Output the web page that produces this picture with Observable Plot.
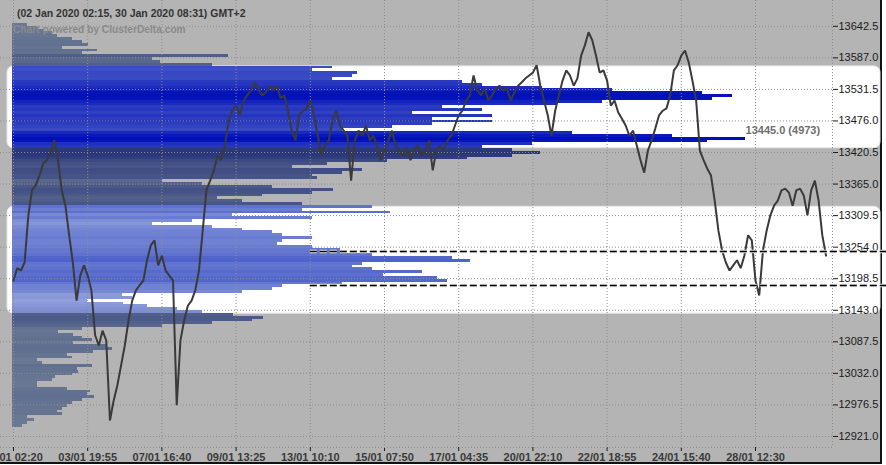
<!DOCTYPE html>
<html><head><meta charset="utf-8">
<script src="https://cdn.jsdelivr.net/npm/d3@7"></script>
<script src="https://cdn.jsdelivr.net/npm/@observablehq/plot@0.6"></script>
<style>
html,body{margin:0;padding:0;background:#fff;}
#wrap{position:relative;width:886px;height:465px;overflow:hidden;font-family:"Liberation Sans",Arial,sans-serif;}
#bg{position:absolute;left:0;top:0;width:880px;height:462px;background:#b4b4b4;border-right:2px solid #111;border-bottom:2px solid #111;}
.layer{position:absolute;left:0;top:0;}
#title{position:absolute;left:17px;top:7px;font:bold 10.5px "Liberation Sans",Arial,sans-serif;color:#333;white-space:nowrap;}
#mark{position:absolute;left:13px;top:24px;font:bold 10.2px "Liberation Sans",Arial,sans-serif;color:#8a8a8a;white-space:nowrap;}
#top g[aria-label^="x-axis"] text{font-weight:bold;fill:#3a3a3a;}
#top g[aria-label^="y-axis"] text{fill:#1a1a1a;}
</style></head><body>
<div id="wrap"><div id="bg"></div></div>
<script>
// ---- data ----
const titleText = "(02 Jan 2020 02:15, 30 Jan 2020 08:31) GMT+2";
const watermark = "Chart powered by ClusterDelta.com";
const xTickBars = [0, 20, 40, 60, 80, 100, 120, 140, 160, 180, 200];
const xTickLabels = ["02/01 02:20","03/01 19:55","07/01 16:40","09/01 13:25","13/01 10:10","15/01 07:50","17/01 04:35","20/01 22:10","22/01 18:55","24/01 15:40","28/01 12:30"];
const yTicks = [12921.0, 12976.5, 13032.0, 13087.5, 13143.0, 13198.5, 13254.0, 13309.5, 13365.0, 13420.5, 13476.0, 13531.5, 13587.0, 13642.5];
const priceCloses = [
13195,13217,13213,13227,13310,13354,13363,13380,13401,13407,
13421,13442,13407,13354,13327,13275,13227,13160,13204,13222,
13204,13178,13099,13081,13107,13090,12949,12984,13011,13046,
13081,13125,13160,13178,13187,13195,13231,13257,13266,13222,
13239,13213,13204,13195,12976,13090,13125,13151,13160,13178,
13213,13283,13354,13371,13389,13415,13407,13433,13477,13494,
13503,13486,13512,13521,13530,13544,13533,13521,13526,13538,
13530,13538,13516,13521,13494,13459,13442,13486,13494,13498,
13512,13486,13450,13415,13433,13442,13477,13494,13468,13459,
13450,13371,13442,13459,13450,13468,13442,13450,13433,13407,
13424,13442,13459,13433,13424,13415,13428,13407,13424,13433,
13415,13424,13442,13389,13424,13433,13424,13442,13450,13468,
13486,13494,13512,13521,13556,13530,13521,13533,13512,13521,
13533,13538,13530,13533,13512,13526,13538,13544,13551,13556,
13561,13574,13538,13512,13486,13450,13494,13521,13547,13565,
13556,13538,13551,13591,13609,13632,13618,13591,13561,13565,
13547,13503,13512,13491,13480,13468,13450,13459,13433,13407,
13385,13424,13442,13463,13486,13494,13498,13521,13565,13574,
13591,13600,13579,13547,13512,13424,13407,13392,13380,13336,
13283,13248,13227,13213,13222,13231,13217,13239,13275,13266,
13195,13169,13248,13283,13310,13327,13336,13354,13357,13350,
13327,13354,13357,13345,13310,13354,13371,13336,13275,13239];
const profileTopLevel = 13645;
const profileStep = 5;
const profileVolumes = [
102,170,210,271,305,407,475,516,339,577,
475,1466,950,1004,1357,2171,2036,2341,2307,2171,
3053,3189,3596,4071,4682,4885,4750,4003,3698,2918,
3189,2714,3257,2850,3257,2850,2578,2239,3800,4478,
4973,4716,3528,3189,3393,3582,3393,3087,2544,2137,
1900,2375,2239,2036,2069,1018,1289,1764,2178,2036,
1696,1391,1561,1968,2443,1968,2565,1493,2036,1221,
950,1357,1561,1764,1832,2036,1832,1798,2036,2225,
2239,2443,2985,3108,2375,2307,2443,2782,2517,2884,
2951,2239,1832,1764,1561,746,814,509,753,916,
1120,1289,1499,1703,1628,1357,1018,475,312,414,
475,543,414,645,679,550,373,407,170,204,
543,441,448,407,292,271,170,170,373,529,
509,556,475,407,373,339,305,339,102,149,
102,68];
const valueZones = [{low: 13428, high: 13572}, {low: 13137, high: 13325}];
const levelLines = [{price: 13246.4, fromBar: 80}, {price: 13186.6, fromBar: 80}];
const poc = {price: 13445.0, volume: 4973};

// ---- layout ----
const W = 886, H = 465, mB = 18, mR = 54;
const yDomain = [12901.6, 13687.9];
const xDomain = [-3.5, 220.75];
const volDomain = [0, 5563];
const wrap = document.getElementById("wrap");

const levels = profileVolumes.map((v, k) => ({price: profileTopLevel - profileStep * k, vol: v}));
const maxVol = d3.max(profileVolumes);
const zoneOf = p => valueZones.findIndex(z => p >= z.low && p <= z.high);
const ramps = [d3.interpolateRgb("#687bcc", "#000fb8"), d3.interpolateRgb("#9eacdc", "#1e36c0")];
const grayRamp = d3.interpolateRgb("#6c7b94", "#0e1a72");
const fillOf = d => { const z = zoneOf(d.price); return (z < 0 ? grayRamp : ramps[z])(d.vol / maxVol); };

function add(svg, id) { svg.classList.add("layer"); if (id) svg.id = id; wrap.appendChild(svg); }

// layer 1: value zones
add(Plot.plot({
  width: W, height: H, marginTop: 0, marginBottom: mB, marginLeft: 7, marginRight: 6,
  style: {background: "transparent"},
  x: {axis: null, domain: [0, 1]}, y: {axis: null, domain: yDomain},
  marks: [Plot.rect(valueZones, {y1: "low", y2: "high", fill: "white", stroke: "#e6e6e6", strokeWidth: 1, rx: 6})]
}));

// layer 2: volume profile
add(Plot.plot({
  width: W, height: H, marginTop: 0, marginBottom: mB, marginLeft: 12, marginRight: mR,
  style: {background: "transparent", fontFamily: "Liberation Sans, Arial, sans-serif"},
  x: {axis: null, domain: volDomain}, y: {axis: null, domain: yDomain},
  marks: [
    Plot.rect(levels, {x1: 0, x2: "vol", y1: d => d.price - profileStep / 2, y2: d => d.price + profileStep / 2, fill: fillOf, shapeRendering: "crispEdges"}),
    Plot.text([poc], {x: "volume", y: "price", text: d => `${d.price.toFixed(1)} (${d.volume})`, textAnchor: "start", dy: -8, fill: "#6e6e6e", fontWeight: "bold", fontSize: 11})
  ]
}));

// layer 3: grid, price, levels, axes
const labelByBar = new Map(xTickBars.map((b, i) => [b, xTickLabels[i]]));
const gridStyle = {stroke: "#8e8e8e", strokeDasharray: "1,2", strokeWidth: 1};
add(Plot.plot({
  width: W, height: H, marginTop: 0, marginBottom: mB, marginLeft: 0, marginRight: mR,
  style: {background: "transparent", fontFamily: "Liberation Sans, Arial, sans-serif", fontSize: "11px", color: "#1a1a1a"},
  x: {domain: xDomain, ticks: xTickBars, tickFormat: d => labelByBar.get(d), tickSize: 4, tickPadding: 2, label: null},
  y: {domain: yDomain, axis: "right", ticks: yTicks, tickFormat: d => d.toFixed(1), tickSize: 5, tickPadding: 1, label: null},
  marks: [
    Plot.ruleX(xTickBars, gridStyle),
    Plot.ruleY(yTicks, gridStyle),
    Plot.ruleX([xDomain[1]], gridStyle),
    Plot.ruleY([yDomain[0]], gridStyle),
    Plot.line(priceCloses, {x: (d, i) => i, y: d => d, stroke: "#3a3a3a", strokeWidth: 2, strokeLinejoin: "miter"}),
    Plot.ruleY(levelLines, {y: "price", x1: "fromBar", x2: () => xDomain[1] + 15, stroke: "#e4e4e4", strokeWidth: 3.5, strokeDasharray: "7,3"}),
    Plot.ruleY(levelLines, {y: "price", x1: "fromBar", x2: () => xDomain[1] + 15, stroke: "#000", strokeWidth: 1.6, strokeDasharray: "7,3"})
  ]
}), "top");

const t = document.createElement("div"); t.id = "title"; t.textContent = titleText; wrap.appendChild(t);
const m = document.createElement("div"); m.id = "mark"; m.textContent = watermark; wrap.appendChild(m);
</script>
</body></html>
